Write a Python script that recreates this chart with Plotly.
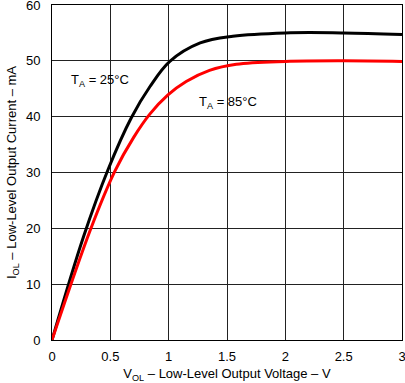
import plotly.graph_objects as go

# Data
v_25 = [0, 0.27, 0.48, 0.68, 0.84, 1.01, 1.27, 1.55, 2.0, 2.5, 3.0]
i_25 = [0, 18.5, 30.5, 39.8, 45.4, 49.9, 53.2, 54.4, 55.0, 55.0, 54.7]
v_85 = [0, 0.33, 0.54, 0.70, 0.84, 0.994, 1.15, 1.35, 1.58, 2.0, 2.5, 3.0]
i_85 = [0, 19.8, 30.3, 36.3, 40.5, 43.9, 46.3, 48.3, 49.4, 49.9, 50.0, 49.9]

x_ticks = [0, 0.5, 1, 1.5, 2, 2.5, 3]
x_tick_text = ["0", "0.5", "1", "1.5", "2", "2.5", "3"]
y_ticks = [0, 10, 20, 30, 40, 50, 60]

FONT = "Liberation Sans, Arial, sans-serif"

fig = go.Figure()
fig.add_trace(go.Scatter(x=v_25, y=i_25, mode="lines",
                         line=dict(color="black", width=3, shape="spline", smoothing=1.0),
                         showlegend=False))
fig.add_trace(go.Scatter(x=v_85, y=i_85, mode="lines",
                         line=dict(color="#ff0000", width=3, shape="spline", smoothing=1.0),
                         showlegend=False))

fig.add_annotation(x=0.41, y=46.5, xref="x", yref="y",
                   text="T<sub>A</sub> = 25°C", showarrow=False,
                   font=dict(family=FONT, size=13, color="black"))
fig.add_annotation(x=1.51, y=42.5, xref="x", yref="y",
                   text="T<sub>A</sub> = 85°C", showarrow=False,
                   font=dict(family=FONT, size=13, color="black"))

fig.update_layout(
    width=405, height=383,
    margin=dict(l=52, r=3, t=5, b=43, autoexpand=False),
    paper_bgcolor="white", plot_bgcolor="white",
    font=dict(family=FONT, size=13, color="black"),
)
fig.update_xaxes(range=[0, 3], tickvals=x_ticks, ticktext=x_tick_text,
                 showgrid=True, gridcolor="#222222", gridwidth=1,
                 showline=True, linecolor="black", linewidth=1, mirror=True,
                 zeroline=False, ticks="", ticklabelstandoff=4, automargin=False,
                 ticklabeloverflow="allow",
                 title=dict(text="V<sub>OL</sub> – Low-Level Output Voltage – V",
                            standoff=7, font=dict(size=13)))
fig.update_yaxes(range=[0, 60], tickvals=y_ticks,
                 showgrid=True, gridcolor="#222222", gridwidth=1,
                 showline=True, linecolor="black", linewidth=1, mirror=True,
                 zeroline=False, ticks="", ticklabelstandoff=8, automargin=False,
                 ticklabeloverflow="allow",
                 title=dict(text="I<sub>OL</sub> – Low-Level Output Current – mA",
                            standoff=6, font=dict(size=13)))

fig.write_html("out.html", config={"displayModeBar": False},
               post_script="document.body.style.margin='0px';document.body.style.overflow='hidden';")
